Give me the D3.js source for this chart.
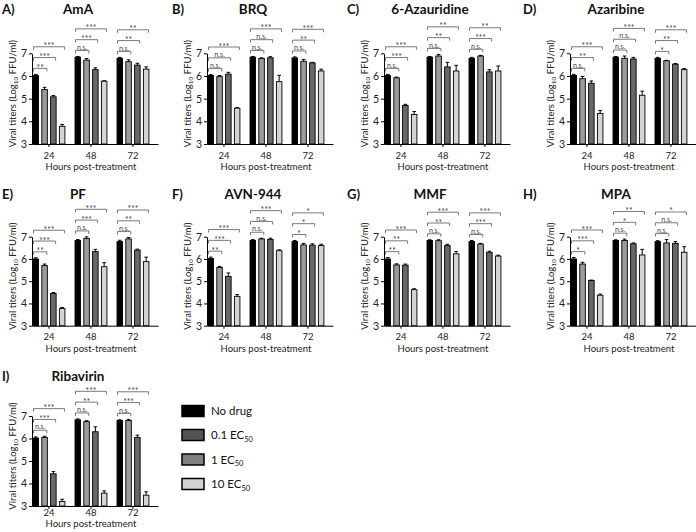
<!DOCTYPE html>
<html><head><meta charset="utf-8">
<script src="https://cdn.jsdelivr.net/npm/d3@7"></script>
<style>body{margin:0;background:#fff} svg{display:block} text{font-family:Lato,"Open Sans",sans-serif}</style>
</head><body><svg id="c" width="696" height="532"></svg>
<script>
const panelNames = ["AmA","BRQ","6-Azauridine","Azaribine","PF","AVN-944","MMF","MPA","Ribavirin"];
const panelLetters = ["A)","B)","C)","D)","E)","F)","G)","H)","I)"];
const timeLabels = ["24","48","72"];
const doseNames = ["No drug","0.1 EC","1 EC","10 EC"];
const doseSubs = ["","50","50","50"];
const yTicks = [3,4,5,6,7];

// means: 24h (4 doses), 48h, 72h
const amaMeans = [6.02,5.40,5.08,3.78, 6.83,6.70,6.28,5.77, 6.78,6.63,6.48,6.30];
const amaErr   = [0.05,0.10,0.06,0.08, 0.03,0.07,0.08,0.02, 0.04,0.08,0.08,0.10];
const amaSig   = ["**","***","***", "n.s.","***","***", "n.s.","**","**"];
const brqMeans = [6.02,5.97,6.08,4.58, 6.83,6.77,6.80,5.75, 6.80,6.65,6.58,6.22];
const brqErr   = [0.04,0.05,0.08,0.02, 0.03,0.03,0.05,0.28, 0.04,0.08,0.02,0.08];
const brqSig   = ["n.s.","n.s.","***", "n.s.","n.s.","***", "n.s.","**","***"];
const azuMeans = [6.02,5.92,4.70,4.30, 6.83,6.88,6.40,6.22, 6.78,6.88,6.18,6.22];
const azuErr   = [0.05,0.03,0.05,0.13, 0.03,0.07,0.20,0.25, 0.04,0.03,0.10,0.22];
const azuSig   = ["n.s.","***","***", "n.s.","**","**", "n.s.","***","**"];
const azbMeans = [6.02,5.88,5.68,4.35, 6.83,6.78,6.75,5.15, 6.78,6.67,6.52,6.28];
const azbErr   = [0.05,0.10,0.10,0.13, 0.03,0.10,0.07,0.18, 0.04,0.02,0.03,0.05];
const azbSig   = ["n.s.","**","***", "n.s.","n.s.","***", "*","**","***"];
const pfMeans  = [6.00,5.70,4.45,3.77, 6.83,6.92,6.33,5.65, 6.78,6.90,6.40,5.88];
const pfErr    = [0.05,0.07,0.04,0.05, 0.04,0.07,0.10,0.18, 0.06,0.06,0.04,0.20];
const pfSig    = ["**","***","***", "n.s.","***","***", "n.s.","**","***"];
const avnMeans = [6.02,5.62,5.22,4.32, 6.83,6.90,6.88,6.37, 6.78,6.63,6.62,6.60];
const avnErr   = [0.06,0.04,0.15,0.08, 0.04,0.03,0.05,0.04, 0.05,0.07,0.06,0.06];
const avnSig   = ["**","***","***", "n.s.","n.s.","***", "*","*","*"];
const mmfMeans = [6.00,5.73,5.72,4.62, 6.83,6.82,6.60,6.23, 6.78,6.67,6.30,6.13];
const mmfErr   = [0.06,0.05,0.05,0.04, 0.03,0.04,0.06,0.10, 0.05,0.03,0.05,0.04];
const mmfSig   = ["**","**","***", "n.s.","**","***", "n.s.","***","***"];
const mpaMeans = [6.00,5.77,5.03,4.37, 6.83,6.83,6.68,6.18, 6.78,6.72,6.70,6.30];
const mpaErr   = [0.06,0.08,0.02,0.05, 0.03,0.06,0.04,0.25, 0.04,0.15,0.08,0.25];
const mpaSig   = ["*","***","***", "n.s.","*","**", "n.s.","n.s.","*"];
const ribMeans = [6.02,6.05,4.43,3.20, 6.83,6.75,6.30,3.57, 6.80,6.80,6.05,3.48];
const ribErr   = [0.05,0.05,0.10,0.10, 0.04,0.04,0.22,0.10, 0.03,0.05,0.10,0.15];
const ribSig   = ["n.s.","***","***", "n.s.","**","***", "n.s.","***","***"];

const allMeans = [amaMeans,brqMeans,azuMeans,azbMeans,pfMeans,avnMeans,mmfMeans,mpaMeans,ribMeans];
const allErr = [amaErr,brqErr,azuErr,azbErr,pfErr,avnErr,mmfErr,mpaErr,ribErr];
const allSig = [amaSig,brqSig,azuSig,azbSig,pfSig,avnSig,mmfSig,mpaSig,ribSig];

const barFills = ["#000000","#9b9b9b","#686868","#d4d4d4"];
const legendFills = ["#000000","#545454","#808080","#d2d2d2"];

const colAxisX = [32, 207, 384, 570];
const letterX = [2, 172, 347, 523];
const rows = [
  {top:53.3, bottom:144, tick:14.5, lab:26, title:14},
  {top:236.7, bottom:325.7, tick:14.5, lab:26.5, title:199},
  {top:416, bottom:506, tick:9.5, lab:20.5, title:381}
];

const svg = d3.select("#c");

panelNames.forEach((name, i) => {
  const col = i % 4, r = rows[Math.floor(i / 4)];
  const ax = colAxisX[col];
  const means = allMeans[i], errs = allErr[i], sigs = allSig[i];
  const x = d3.scaleBand().domain(timeLabels).range([ax, ax + 126])
    .paddingInner(0.24).paddingOuter(0.12).align(0.1);
  const xs = d3.scaleBand().domain(d3.range(4)).range([0, x.bandwidth()]).paddingInner(0.37);
  const y = d3.scaleLinear().domain([3, 7]).range([r.bottom, r.top]);
  const g = svg.append("g");

  // axes
  const ya = g.append("g").attr("transform", `translate(${ax},0)`)
    .call(d3.axisLeft(y).tickValues(yTicks).tickFormat(d3.format("d")).tickSize(3).tickPadding(2).tickSizeOuter(0));
  ya.selectAll("text").attr("font-size", 10.5).attr("fill", "#222");
  const xa = g.append("g").attr("transform", `translate(0,${r.bottom})`)
    .call(d3.axisBottom(x).tickSize(3).tickSizeOuter(0).tickPadding(0));
  xa.selectAll("text").attr("font-size", 9.5).attr("fill", "#222").attr("dy", null)
    .attr("y", r.tick);
  g.selectAll(".domain, .tick line").attr("stroke", "#000");
  g.selectAll("g.tick text").attr("font-family", "Lato, 'Open Sans', sans-serif");

  // bars
  timeLabels.forEach((t, gi) => {
    for (let k = 0; k < 4; k++) {
      const v = means[gi * 4 + k], e = errs[gi * 4 + k];
      const bx = x(t) + xs(k), bw = xs.bandwidth();
      g.append("line").attr("x1", bx + bw / 2).attr("x2", bx + bw / 2)
        .attr("y1", y(v)).attr("y2", y(v + e)).attr("stroke", "#000").attr("stroke-width", 1);
      g.append("line").attr("x1", bx + bw / 2 - 1.8).attr("x2", bx + bw / 2 + 1.8)
        .attr("y1", y(v + e)).attr("y2", y(v + e)).attr("stroke", "#000").attr("stroke-width", 1);
      g.append("rect").attr("x", bx).attr("y", y(v)).attr("width", bw)
        .attr("height", y(3) - y(v)).attr("fill", barFills[k])
        .attr("stroke", "#000").attr("stroke-width", 0.9);
    }
    // significance brackets
    const topV = Math.max(means[gi * 4] + errs[gi * 4], means[gi * 4 + 1] + errs[gi * 4 + 1]);
    const base = y(topV) - 6;
    for (let k = 1; k < 4; k++) {
      const ly = base - (k - 1) * 10.8;
      const x1 = x(t) + xs(0) + 0.5, x2 = x(t) + xs(k) + xs.bandwidth() - 0.5;
      g.append("path").attr("d", `M${x1},${ly + 3}V${ly}H${x2}V${ly + 3}`)
        .attr("fill", "none").attr("stroke", "#6a6a6a").attr("stroke-width", 0.9);
      const s = sigs[gi * 3 + k - 1];
      g.append("text").attr("x", (x1 + x2) / 2).attr("y", s === "n.s." ? ly - 0.8 : ly + 2.5)
        .attr("text-anchor", "middle").attr("font-size", s === "n.s." ? 7.2 : 8.5).attr("fill", "#444")
        .text(s);
    }
  });

  // y label
  const mid = (r.top + r.bottom) / 2 - 5;
  const yl = g.append("text").attr("transform", `translate(${ax - 16},${mid}) rotate(-90)`)
    .attr("text-anchor", "middle").attr("font-size", 9.5).attr("fill", "#222");
  yl.append("tspan").text("Viral titers (Log");
  yl.append("tspan").attr("font-size", 6.5).attr("dy", 2).text("10");
  yl.append("tspan").attr("dy", -2).text(" FFU/ml)");

  // x label
  g.append("text").attr("x", x("48") + x.bandwidth() / 2).attr("y", r.bottom + r.lab)
    .attr("text-anchor", "middle").attr("font-size", 9.5).attr("fill", "#222")
    .text("Hours post-treatment");

  // titles
  g.append("text").attr("x", letterX[col]).attr("y", r.title).attr("font-size", 13)
    .attr("font-weight", "bold").attr("fill", "#111").text(panelLetters[i]);
  g.append("text").attr("x", ax + 46).attr("y", r.title).attr("text-anchor", "middle")
    .attr("font-size", 13.5).attr("font-weight", "bold").attr("fill", "#111").text(name);
});

// legend
const legY = [411, 435, 459.5, 484];
doseNames.forEach((d, k) => {
  const lg = svg.append("g");
  lg.append("rect").attr("x", 182).attr("y", legY[k] - 5.5).attr("width", 22).attr("height", 11)
    .attr("fill", legendFills[k]).attr("stroke", "#000").attr("stroke-width", 1.5);
  const t = lg.append("text").attr("x", 211).attr("y", legY[k] + 4).attr("font-size", 11.5).attr("fill", "#111");
  t.append("tspan").text(d);
  if (doseSubs[k]) t.append("tspan").attr("font-size", 7.5).attr("dy", 2.5).text(doseSubs[k]);
});
</script></body></html>
